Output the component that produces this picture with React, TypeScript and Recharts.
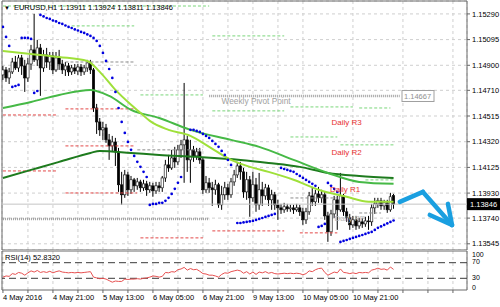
import React from 'react';
import {
  ComposedChart, LineChart, Line, Bar, Scatter, XAxis, YAxis, CartesianGrid,
  ReferenceLine, ReferenceDot, ReferenceArea,
} from 'recharts';

const FONT = '"Liberation Sans", Arial, sans-serif';

// ---------- price data (EURUSD H1, bar 0 = 4 May 05:00) ----------
const opens = [
  1.14827, 1.14865, 1.14804, 1.14850, 1.14925, 1.14880, 1.14956, 1.14895, 1.14804, 1.14910,
  1.15017, 1.14941, 1.15032, 1.14880, 1.14979, 1.14925, 1.14971, 1.14865, 1.14956, 1.14910,
  1.14865, 1.14895, 1.14850, 1.14880, 1.14857, 1.14887, 1.14850, 1.14880, 1.14918, 1.14865,
  1.14576, 1.14470, 1.14410, 1.14425, 1.14334, 1.14288, 1.14318, 1.14243, 1.13993, 1.13917,
  1.14068, 1.13955, 1.14031, 1.13985, 1.14015, 1.13970, 1.14000, 1.13955, 1.13985, 1.13947,
  1.13985, 1.13970, 1.14045, 1.14144, 1.14121, 1.14197, 1.14167, 1.14258, 1.14296, 1.14334,
  1.14182, 1.14258, 1.14212, 1.14243, 1.14182, 1.13955, 1.14008, 1.13970, 1.13955, 1.13993,
  1.13841, 1.13917, 1.13970, 1.13917, 1.14015, 1.14068, 1.14136, 1.14091, 1.13939, 1.14031,
  1.13894, 1.13993, 1.13841, 1.13955, 1.13909, 1.13970, 1.13879, 1.13917, 1.13841, 1.13818,
  1.13803, 1.13826, 1.13810, 1.13818, 1.13803, 1.13818, 1.13788, 1.13727, 1.13788, 1.13909,
  1.13864, 1.13924, 1.13894, 1.13917, 1.13757, 1.13636, 1.13772, 1.13879, 1.13803, 1.13909,
  1.13788, 1.13742, 1.13689, 1.13727, 1.13681, 1.13712, 1.13696, 1.13719, 1.13712, 1.13818,
  1.13848, 1.13871, 1.13833, 1.13856, 1.13803, 1.13911,
];
const highs = [
  1.14895, 1.14887, 1.14880, 1.14956, 1.14971, 1.14979, 1.14979, 1.14941, 1.14956, 1.15055,
  1.15290, 1.15093, 1.15062, 1.15017, 1.15032, 1.15001, 1.15001, 1.15001, 1.15017, 1.14941,
  1.14925, 1.14918, 1.14903, 1.14910, 1.14910, 1.14910, 1.14903, 1.14941, 1.14941, 1.14880,
  1.14607, 1.14500, 1.14470, 1.14455, 1.14379, 1.14364, 1.14349, 1.14273, 1.14091, 1.14106,
  1.14091, 1.14060, 1.14045, 1.14045, 1.14031, 1.14031, 1.14023, 1.14015, 1.14008, 1.14015,
  1.14015, 1.14060, 1.14182, 1.14220, 1.14258, 1.14281, 1.14296, 1.14334, 1.14766, 1.14364,
  1.14334, 1.14288, 1.14273, 1.14273, 1.14197, 1.14060, 1.14045, 1.14015, 1.14031, 1.14008,
  1.13985, 1.14015, 1.14000, 1.14045, 1.14106, 1.14167, 1.14167, 1.14121, 1.14091, 1.14060,
  1.14091, 1.14045, 1.14083, 1.14015, 1.14000, 1.13993, 1.13955, 1.13939, 1.13879, 1.13848,
  1.13856, 1.13848, 1.13841, 1.13841, 1.13848, 1.13841, 1.13818, 1.13818, 1.13939, 1.13977,
  1.13955, 1.13977, 1.13955, 1.13939, 1.13788, 1.13803, 1.13909, 1.13909, 1.14083, 1.13924,
  1.13818, 1.13772, 1.13757, 1.13757, 1.13742, 1.13742, 1.13750, 1.13757, 1.13848, 1.13894,
  1.13894, 1.13894, 1.13879, 1.13879, 1.13932, 1.13924,
];
const lows = [
  1.14789, 1.14774, 1.14758, 1.14834, 1.14865, 1.14850, 1.14827, 1.14698, 1.14774, 1.14865,
  1.14925, 1.14895, 1.14668, 1.14850, 1.14880, 1.14865, 1.14834, 1.14850, 1.14865, 1.14834,
  1.14819, 1.14819, 1.14827, 1.14834, 1.14827, 1.14819, 1.14827, 1.14850, 1.14834, 1.14546,
  1.14379, 1.14364, 1.14334, 1.14311, 1.14182, 1.14243, 1.14136, 1.13939, 1.13841, 1.13894,
  1.13909, 1.13924, 1.13939, 1.13955, 1.13939, 1.13947, 1.13909, 1.13932, 1.13902, 1.13924,
  1.13939, 1.13939, 1.14015, 1.14091, 1.14106, 1.14121, 1.14144, 1.14197, 1.14008, 1.14091,
  1.14008, 1.14167, 1.14182, 1.14152, 1.13924, 1.13932, 1.13932, 1.13833, 1.13917, 1.13818,
  1.13803, 1.13879, 1.13879, 1.13894, 1.13985, 1.14045, 1.14031, 1.13894, 1.13879, 1.13750,
  1.13864, 1.13788, 1.13803, 1.13833, 1.13879, 1.13833, 1.13803, 1.13803, 1.13727, 1.13772,
  1.13780, 1.13788, 1.13788, 1.13772, 1.13788, 1.13757, 1.13689, 1.13696, 1.13765, 1.13833,
  1.13833, 1.13856, 1.13856, 1.13727, 1.13560, 1.13605, 1.13742, 1.13651, 1.13788, 1.13757,
  1.13712, 1.13651, 1.13666, 1.13651, 1.13659, 1.13666, 1.13674, 1.13651, 1.13681, 1.13772,
  1.13818, 1.13803, 1.13803, 1.13780, 1.13788, 1.13811,
];
const closes = [
  1.14865, 1.14804, 1.14850, 1.14925, 1.14880, 1.14956, 1.14895, 1.14804, 1.14910, 1.15017,
  1.14941, 1.15032, 1.14880, 1.14979, 1.14925, 1.14971, 1.14865, 1.14956, 1.14910, 1.14865,
  1.14895, 1.14850, 1.14880, 1.14857, 1.14887, 1.14850, 1.14880, 1.14918, 1.14865, 1.14576,
  1.14470, 1.14410, 1.14425, 1.14334, 1.14288, 1.14318, 1.14243, 1.13993, 1.13917, 1.14068,
  1.13955, 1.14031, 1.13985, 1.14015, 1.13970, 1.14000, 1.13955, 1.13985, 1.13947, 1.13985,
  1.13970, 1.14045, 1.14144, 1.14121, 1.14197, 1.14167, 1.14258, 1.14296, 1.14334, 1.14182,
  1.14258, 1.14212, 1.14243, 1.14182, 1.13955, 1.14008, 1.13970, 1.13955, 1.13993, 1.13841,
  1.13917, 1.13970, 1.13917, 1.14015, 1.14068, 1.14136, 1.14091, 1.13939, 1.14031, 1.13894,
  1.13993, 1.13841, 1.13955, 1.13909, 1.13970, 1.13879, 1.13917, 1.13841, 1.13818, 1.13803,
  1.13826, 1.13810, 1.13818, 1.13803, 1.13818, 1.13788, 1.13727, 1.13788, 1.13909, 1.13864,
  1.13924, 1.13894, 1.13917, 1.13757, 1.13636, 1.13772, 1.13879, 1.13803, 1.13909, 1.13788,
  1.13742, 1.13689, 1.13727, 1.13681, 1.13712, 1.13696, 1.13719, 1.13712, 1.13818, 1.13848,
  1.13871, 1.13833, 1.13856, 1.13803, 1.13902, 1.13846,
];

// Parabolic SAR, one value per bar (null = not shown)
const sar: (number | null)[] = [
  1.15191, 1.15115, 1.15047, 1.14736, 1.14743, 1.14751, 1.15108, 1.15108, 1.15108, 1.15100,
  1.14690, 1.14705, 1.15282, 1.15271, 1.15259, 1.15252, 1.15240, 1.15233, 1.15221, 1.15214,
  1.15202, 1.15191, 1.15183, 1.15172, 1.15164, 1.15153, 1.15146, 1.15134, 1.15123, 1.15108,
  1.15085, 1.15047, 1.14994, 1.14933, 1.14872, 1.14804, 1.14698, 1.14576, 1.14470, 1.14387,
  1.14318, 1.14258, 1.14212, 1.14167, 1.14129, 1.14091, 1.14052, 1.13840, 1.13848, 1.13848,
  1.13856, 1.13856, 1.13871, 1.13894, 1.13924, 1.13962, 1.14008, 1.14052, null, null,
  1.14410, 1.14410, 1.14402, 1.14394, 1.14379, 1.14364, 1.14349, 1.14326, 1.14303, 1.14281,
  1.14250, 1.14220, 1.14182, 1.14144, null, 1.13703, 1.13703, 1.13707, 1.13711, 1.13715,
  1.13719, 1.13726, 1.13734, 1.13741, 1.13749, 1.13757, 1.13764, 1.13772, null, 1.14121,
  1.14113, 1.14106, 1.14098, 1.14091, 1.14075, 1.14060, 1.14045, 1.14030, 1.14015, 1.14000,
  1.13985, 1.13673, 1.13681, 1.13696, 1.14007, 1.13985, 1.13962, 1.13939, 1.13559, 1.13567,
  1.13574, 1.13582, 1.13590, 1.13597, 1.13605, 1.13612, 1.13620, 1.13628, 1.13635, 1.13650,
  1.13666, 1.13677, 1.13688, 1.13700, 1.13711, 1.13722,
];

// moving averages (read at selected bars)
const fastBars = [0, 9, 18, 27, 31, 36, 41, 44, 47, 53, 60, 66, 73, 79, 85, 93, 101, 110, 117, 125];
const fastVals = [1.15009, 1.14986, 1.14963, 1.14933, 1.14850, 1.14713, 1.14600, 1.14539, 1.14478, 1.14410,
  1.14364, 1.14281, 1.14182, 1.14129, 1.14091, 1.14031, 1.13955, 1.13902, 1.13864, 1.13864];
const midBars = [0, 9, 18, 28, 34, 41, 50, 60, 73, 82, 93, 104, 114, 125];
const midVals = [1.14576, 1.14622, 1.14675, 1.14713, 1.14668, 1.14562, 1.14500, 1.14410, 1.14334, 1.14281,
  1.14182, 1.14083, 1.14015, 1.14000];
const slowBars = [0, 9, 18, 28, 31, 41, 50, 62, 76, 85, 95, 104, 114, 125];
const slowVals = [1.14045, 1.14106, 1.14167, 1.14235, 1.14250, 1.14235, 1.14220, 1.14205, 1.14182, 1.14159,
  1.14129, 1.14083, 1.14060, 1.14045];

// daily pivot level segments
const segFrom = [0, 0, 0, 22, 20, 20, 20, 20, 44, 43, 44, 67, 67, 67, 92, 92, 92, 95, 114, 108, 116, 114];
const segTo = [66, 17, 17, 42, 42, 42, 42, 43, 64, 64, 64, 90, 90, 90, 112, 107, 107, 107, 124, 125, 125, 121];
const segPrice = [1.15350, 1.14523, 1.14098, 1.15199, 1.14925, 1.14569, 1.14288, 1.13931, 1.14675, 1.14258,
  1.13590, 1.15123, 1.14554, 1.13643, 1.14584, 1.14356, 1.13893, 1.13628, 1.14576, 1.14296, 1.14030, 1.13779];
const segKind = ['R', 'S', 'S', 'R', 'P', 'S', 'S', 'S', 'R', 'P', 'S', 'R', 'R', 'S', 'R', 'R', 'P', 'S', 'R', 'R', 'R', 'P'];

// weekly pivots
const weeklyFrom = [0, 66];
const weeklyTo = [66, 127];
const weeklyPrice = [1.13734, 1.14667];

// text labels on chart
const labelText = ['Daily R3', 'Daily R2', 'Daily R1', 'Daily PP', 'Weekly Pivot Point'];
const labelBar = [110, 110, 109.5, 111, 81];
const labelPrice = [1.14462, 1.14239, 1.13955, 1.13734, 1.14630];
const labelColor = ['#e8312f', '#e8312f', '#e8312f', '#b8b8b8', '#a0a0a0'];

// forecast arrow
const arrowBars = [127, 134.4, 143.7];
const arrowPrices = [1.13863, 1.13939, 1.13688];
const headBars = [142.4, 143.7, 136.6];
const headPrices = [1.13848, 1.13688, 1.13764];

// RSI(14)
const rsi = [
  33, 36, 35, 42, 40, 45, 43, 38, 44, 49,
  46, 50, 45, 47, 45, 48, 44, 47, 49, 46,
  45, 44, 45, 44, 45, 44, 45, 46, 47, 33,
  31, 29, 30, 28, 24, 20, 23, 22, 22, 28,
  27, 28, 28, 29, 28, 30, 31, 33, 36, 35,
  33, 35, 45, 44, 47, 46, 52, 54, 58, 51,
  55, 52, 53, 48, 42, 41, 38, 38, 36, 33,
  40, 44, 43, 47, 49, 51, 49, 43, 47, 41,
  46, 40, 46, 44, 47, 43, 45, 42, 41, 42,
  43, 42, 43, 42, 43, 42, 39, 42, 49, 47,
  52, 55, 56, 45, 38, 42, 46, 44, 54, 45,
  44, 42, 44, 42, 45, 44, 45, 44, 51, 53,
  56, 53, 54, 51, 59, 52.832,
];

const priceTicks = [1.13545, 1.13740, 1.13930, 1.14125, 1.14320, 1.14515, 1.14710, 1.14900, 1.15095, 1.15290];
const xLabelBars = [0, 16, 32, 48, 64, 80, 96, 112];
const xLabels = ['4 May 2016', '4 May 21:00', '5 May 13:00', '6 May 05:00', '6 May 21:00', '9 May 13:00', '10 May 05:00', '10 May 21:00'];
const rsiTicks = [0, 30, 70, 100];
const rsiLevels = [70, 30];

// ---------- derived tables ----------
const X_DOMAIN: [number, number] = [-0.3, 148.5];
const P_DOMAIN: [number, number] = [1.13498, 1.15388];
const gridBars = Array.from({ length: 19 }, (_, k) => k * 8);

const candleRows = closes.map((c, i) => ({ i, o: opens[i], h: highs[i], l: lows[i], c, range: [lows[i], highs[i]] }));
const sarRows = sar.map((v, i) => ({ i, v })).filter((r) => r.v !== null);
const fastRows = fastBars.map((b, k) => ({ i: b, v: fastVals[k] }));
const midRows = midBars.map((b, k) => ({ i: b, v: midVals[k] }));
const slowRows = slowBars.map((b, k) => ({ i: b, v: slowVals[k] }));
const rsiRows = rsi.map((v, i) => ({ i, v }));
const lastClose = closes[closes.length - 1];

const kindColor: Record<string, string> = { R: '#7ad67a', S: '#e34848', P: '#8c8c8c' };

const Candle = (props: any) => {
  const { x, y, width, height, payload } = props;
  if (x == null || y == null || !payload) return null;
  const top = Math.min(y, y + height);
  const hgt = Math.abs(height);
  const { o, h, l, c } = payload;
  const span = h - l || 1e-9;
  const py = (p: number) => top + ((h - p) / span) * hgt;
  const cx = x + width / 2;
  const bTop = py(Math.max(o, c));
  const bBot = Math.max(py(Math.min(o, c)), bTop + 0.8);
  const bull = c > o;
  return (
    <g>
      <line x1={cx} x2={cx} y1={top} y2={bTop} stroke="#000" strokeWidth={1} />
      <line x1={cx} x2={cx} y1={bBot} y2={top + hgt} stroke="#000" strokeWidth={1} />
      <rect x={cx - 1.2} y={bTop} width={2.4} height={bBot - bTop}
        fill={bull ? '#fff' : '#000'} stroke="#000" strokeWidth={0.6} />
    </g>
  );
};

const SarDot = (p: any) => (p.cx == null ? null : <circle cx={p.cx} cy={p.cy} r={1.35} fill="#0000e0" />);

const textShape = (text: string, color: string, size: number) => (p: any) => (
  <text x={p.cx} y={p.cy} textAnchor="middle" dominantBaseline="central"
    fontSize={size} fill={color} fontFamily={FONT}>{text}</text>
);

const weeklyBox = (p: any) => (
  <g>
    <rect x={p.cx} y={p.cy - 5.5} width={32} height={11} fill="#fff" stroke="#a0a0a0" strokeWidth={1} />
    <text x={p.cx + 2} y={p.cy + 0.5} dominantBaseline="central" fontSize={7.5} fill="#909090" fontFamily={FONT}>
      {weeklyPrice[1].toFixed(5)}
    </text>
  </g>
);

const priceTag = (p: any) => (
  <g>
    <rect x={p.cx} y={p.cy - 6} width={33} height={12} fill="#000" />
    <text x={p.cx + 3} y={p.cy + 0.5} dominantBaseline="central" fontSize={7.5} fill="#fff" fontFamily={FONT}>
      {lastClose.toFixed(5)}
    </text>
  </g>
);

const XTick = (p: any) => {
  const k = xLabelBars.indexOf(p.payload?.value);
  if (k < 0) return null;
  return (
    <text x={p.x} y={p.y} dy="0.71em" textAnchor="start" fontSize={7.5} fill="#000" fontFamily={FONT}>
      {xLabels[k]}
    </text>
  );
};

const RsiTick = (p: any) => {
  const v = p.payload?.value;
  const shift = v === 100 ? 3.5 : v === 70 ? -1 : v === 30 ? -1 : -3;
  return (
    <text x={p.x} y={p.y + shift} dominantBaseline="central" textAnchor="start" fontSize={7} fill="#000" fontFamily={FONT}>
      {v}
    </text>
  );
};

export default function App() {
  return (
    <div style={{ position: 'absolute', left: 0, top: 0, width: 500, height: 307, background: '#fff', fontFamily: FONT }}>
      <ComposedChart width={500} height={250} data={candleRows} margin={{ top: 1, right: 0, left: 2, bottom: 0 }}>
        <CartesianGrid stroke="#cfcfcf" strokeDasharray="3 3" />
        <XAxis dataKey="i" type="number" domain={X_DOMAIN} ticks={gridBars} hide allowDataOverflow />
        <YAxis type="number" orientation="right" domain={P_DOMAIN} ticks={priceTicks} interval={0} width={33}
          allowDataOverflow axisLine={false} tickSize={3} tickMargin={2} tickLine={{ stroke: '#666' }}
          tick={{ fontSize: 7.5, fill: '#000', fontFamily: FONT }} tickFormatter={(v: number) => v.toFixed(5)} />

        {segPrice.map((p, k) => (
          <ReferenceLine key={'s' + k} segment={[{ x: segFrom[k], y: p }, { x: segTo[k], y: p }]}
            stroke={kindColor[segKind[k]]} strokeDasharray="3 2" strokeWidth={1} ifOverflow="visible" />
        ))}
        {weeklyPrice.map((p, k) => (
          <ReferenceLine key={'w' + k} segment={[{ x: weeklyFrom[k], y: p }, { x: weeklyTo[k], y: p }]}
            stroke="#a0a0a0" strokeDasharray="1 1" strokeWidth={2.5} ifOverflow="visible" />
        ))}
        <ReferenceLine y={lastClose} stroke="#c4c4c4" strokeWidth={1} />

        <Bar dataKey="range" barSize={3} shape={Candle} isAnimationActive={false} />

        <Line data={slowRows} dataKey="v" type="monotone" stroke="#1e7b1e" strokeWidth={2} dot={false} isAnimationActive={false} />
        <Line data={midRows} dataKey="v" type="monotone" stroke="#46b946" strokeWidth={2} dot={false} isAnimationActive={false} />
        <Line data={fastRows} dataKey="v" type="monotone" stroke="#9fe03a" strokeWidth={2} dot={false} isAnimationActive={false} />

        <Scatter data={sarRows} dataKey="v" shape={SarDot} isAnimationActive={false} />

        {labelText.map((t, k) => (
          <ReferenceDot key={'l' + k} x={labelBar[k]} y={labelPrice[k]} r={0} ifOverflow="visible"
            shape={textShape(t, labelColor[k], t.startsWith('Weekly') ? 8.3 : 8)} />
        ))}
        <ReferenceDot x={127.7} y={weeklyPrice[1]} r={0} ifOverflow="visible" shape={weeklyBox} />

        {arrowBars.slice(1).map((b, k) => (
          <ReferenceLine key={'a' + k} segment={[{ x: arrowBars[k], y: arrowPrices[k] }, { x: b, y: arrowPrices[k + 1] }]}
            stroke="#1a9fe0" strokeWidth={4.5} strokeLinecap="round" ifOverflow="visible" />
        ))}
        {headBars.slice(1).map((b, k) => (
          <ReferenceLine key={'h' + k} segment={[{ x: headBars[k], y: headPrices[k] }, { x: b, y: headPrices[k + 1] }]}
            stroke="#1a9fe0" strokeWidth={4.5} strokeLinecap="round" ifOverflow="visible" />
        ))}

        <ReferenceArea x1={X_DOMAIN[0]} x2={X_DOMAIN[1]} y1={P_DOMAIN[0]} y2={P_DOMAIN[1]}
          fill="none" fillOpacity={0} stroke="#6a6a6a" strokeWidth={1} ifOverflow="visible" />
        <ReferenceDot x={X_DOMAIN[1]} y={lastClose} r={0} ifOverflow="visible" shape={priceTag} />
      </ComposedChart>

      <div style={{ position: 'absolute', left: 4, top: 3, fontSize: 7.5, color: '#000', whiteSpace: 'nowrap', lineHeight: '9px' }}>
        <span style={{ fontSize: 6, marginRight: 4 }}>▼</span>EURUSD,H1 1.13911 1.13924 1.13811 1.13846
      </div>

      <div style={{ position: 'absolute', left: 0, top: 250 }}>
        <LineChart width={500} height={57} data={rsiRows} margin={{ top: 1, right: 0, left: 2, bottom: 0 }}>
          <CartesianGrid stroke="#cfcfcf" strokeDasharray="3 3" horizontal={false} />
          <XAxis dataKey="i" type="number" domain={X_DOMAIN} ticks={gridBars} interval={0} height={17}
            allowDataOverflow axisLine={false} tickSize={3} tickMargin={2} tickLine={{ stroke: '#666' }} tick={<XTick />} />
          <YAxis type="number" orientation="right" domain={[0, 100]} ticks={rsiTicks} interval={0} width={33}
            axisLine={false} tickSize={3} tickMargin={2} tickLine={false} tick={<RsiTick />} />
          {rsiLevels.map((lv) => (
            <ReferenceLine key={lv} y={lv} stroke="#3a3a3a" strokeDasharray="7 4" strokeWidth={1} />
          ))}
          <Line dataKey="v" type="linear" stroke="#e65050" strokeWidth={1} dot={false} isAnimationActive={false} />
          <ReferenceArea x1={X_DOMAIN[0]} x2={X_DOMAIN[1]} y1={0} y2={100}
            fill="none" fillOpacity={0} stroke="#6a6a6a" strokeWidth={1} ifOverflow="visible" />
        </LineChart>
        <div style={{ position: 'absolute', left: 5, top: 3, fontSize: 7.5, color: '#000', whiteSpace: 'nowrap', lineHeight: '9px' }}>
          RSI(14) 52.8320
        </div>
      </div>
    </div>
  );
}
